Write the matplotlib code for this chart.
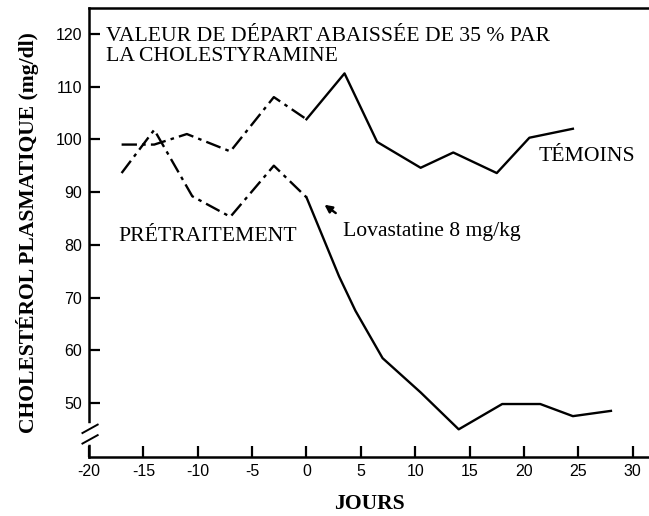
import matplotlib.pyplot as plt

# data
temoins_days = [-17, -14, -11, -7, -3, 0, 3.5, 6.5, 10.5, 13.5, 17.5, 20.5, 24.5]
temoins_vals = [99, 99, 101, 97.7, 108, 103.8, 112.5, 99.5, 94.6, 97.5, 93.6, 100.3, 102]
lova_days = [-17, -14, -10.5, -7, -3, 0, 3, 4.5, 7, 10.5, 14, 18, 21.5, 24.5, 28]
lova_vals = [93.6, 101.8, 89.2, 85.3, 95, 89, 74, 67.5, 58.5, 52, 45, 49.8, 49.8, 47.5, 48.5]
n_pre_t = 6  # first points = pretraitement (dash-dot)
n_pre_l = 6

plt.rcParams['axes.unicode_minus'] = False
serif = 'Liberation Serif'
fs = 15.6
dashdot = (0, (6.5, 2.2, 1.5, 2.2))

fig = plt.figure(figsize=(6.49, 5.16), dpi=100)
ax = fig.add_axes([0.1371, 0.1143, 0.8629, 0.8702])

ax.plot(temoins_days[:n_pre_t], temoins_vals[:n_pre_t], color='black', lw=1.7, linestyle=dashdot)
ax.plot(temoins_days[n_pre_t - 1:], temoins_vals[n_pre_t - 1:], color='black', lw=1.7)
ax.plot(lova_days[:n_pre_l], lova_vals[:n_pre_l], color='black', lw=1.7, linestyle=dashdot)
ax.plot(lova_days[n_pre_l - 1:], lova_vals[n_pre_l - 1:], color='black', lw=1.7)

ax.set_xlim(-19.9, 31.5)
ax.set_ylim(39.75, 124.9)
ax.set_xticks(range(-20, 31, 5))
ax.set_yticks(range(50, 121, 10))
ax.tick_params(direction='in', length=8, width=1.6, labelsize=11.5, pad=5)
for lab in ax.get_xticklabels() + ax.get_yticklabels():
    lab.set_family('Liberation Sans')
ax.spines['right'].set_visible(False)
for s in ['left', 'bottom', 'top']:
    ax.spines[s].set_linewidth(1.8)

# axis break on the y axis
ax.plot([-19.9, -19.9], [42.6, 45.6], color='white', lw=4, clip_on=False, zorder=5)
ax.plot([-20.6, -19.2], [44.3, 45.9], color='black', lw=1.4, clip_on=False, zorder=6)
ax.plot([-20.6, -19.2], [42.3, 43.9], color='black', lw=1.4, clip_on=False, zorder=6)

ax.text(-18.45, 117.65, 'VALEUR DE DÉPART ABAISSÉE DE 35 % PAR\nLA CHOLESTYRAMINE', family=serif,
        fontsize=fs, va='center', ha='left', linespacing=1.08)
ax.text(-17.3, 81.5, 'PRÉTRAITEMENT', family=serif, fontsize=fs, va='center')
ax.text(21.3, 96.7, 'TÉMOINS', family=serif, fontsize=fs, va='center')
ax.text(3.4, 82.6, 'Lovastatine 8 mg/kg', family=serif, fontsize=fs, va='center')
ax.annotate('', xy=(1.45, 87.9), xytext=(2.9, 85.7),
            arrowprops=dict(arrowstyle='-|>', color='black', lw=1.7, mutation_scale=11))

ax.set_xlabel('JOURS', family=serif, fontweight='bold', fontsize=fs, labelpad=11)
ax.set_ylabel('CHOLESTÉROL PLASMATIQUE (mg/dl)', family=serif, fontweight='bold', fontsize=fs, labelpad=12)

fig.savefig('out.png', dpi=100)
